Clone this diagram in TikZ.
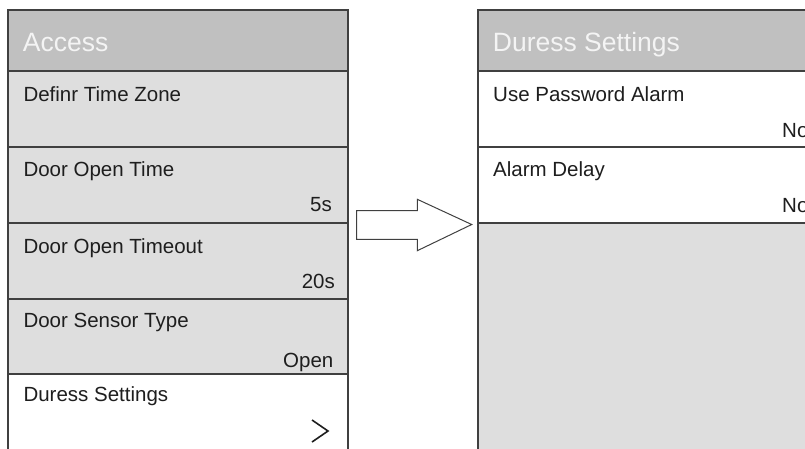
\documentclass[tikz,border=0pt]{standalone}
\usepackage{fontspec}
\setmainfont{Liberation Sans}
\usetikzlibrary{calc}
\definecolor{line}{HTML}{404040}
\definecolor{headgray}{HTML}{C0C0C0}
\definecolor{rowgray}{HTML}{DEDEDE}
\definecolor{ink}{HTML}{1E1E1E}
\definecolor{headtext}{HTML}{F4F4F4}
\tikzset{
  head/.style={fill=headgray, draw=line, line width=1.2pt},
  rowg/.style={fill=rowgray, draw=line, line width=1.2pt},
  roww/.style={fill=white, draw=line, line width=1.2pt},
  ttl/.style={text=headtext, font=\fontsize{26.5}{30}\selectfont, anchor=base west, inner sep=0pt},
  lab/.style={text=ink, font=\fontsize{20.5}{24}\selectfont, anchor=base west, inner sep=0pt},
  val/.style={text=ink, font=\fontsize{20.5}{24}\selectfont, anchor=base east, inner sep=0pt},
  valr/.style={text=ink, font=\fontsize{20.5}{24}\selectfont, anchor=base west, inner sep=0pt},
  blk/.style={draw=line, fill=white, line width=1.0pt, line join=miter},
  chev/.style={draw=ink, line width=1.6pt, line join=miter},
}

\begin{document}
\begin{tikzpicture}[x=1pt,y=-1pt]
  \useasboundingbox (0,0) rectangle (805,448);
  \clip (0,0) rectangle (805,448);
  \def\xa{8}
  \def\xb{348}
  \def\xc{478}
  \def\xd{820}
  % left screen
  \draw[head] (\xa,10) rectangle (\xb,71);
  \draw[rowg] (\xa,71) rectangle (\xb,147);
  \draw[rowg] (\xa,147) rectangle (\xb,223);
  \draw[rowg] (\xa,223) rectangle (\xb,299);
  \draw[rowg] (\xa,299) rectangle (\xb,374);
  \draw[roww] (\xa,374) rectangle (\xb,460);
  \node[ttl] (access) at (22.7,51.7) {Access};
  \node[lab] (tzone) at (23.3,101) {Definr Time Zone};
  \node[lab] (otime) at (23.3,176) {Door Open Time};
  \node[val] (otimev) at (332,211.7) {5s};
  \node[lab] (oout) at (23.3,253) {Door Open Timeout};
  \node[val] (ooutv) at (335,288.3) {20s};
  \node[lab] (stype) at (23.3,327) {Door Sensor Type};
  \node[val] (stypev) at (333.5,367) {Open};
  \node[lab] (duress) at (23.3,401) {Duress Settings};
  \draw[chev] (312,420) -- (328,431) -- (312,442);
  % block arrow
  \draw[blk] (356.7,210.7) -- (417.3,210.7) -- (417.3,199.3) -- (471.7,224.5)
    -- (417.3,250.7) -- (417.3,239.3) -- (356.7,239.3) -- cycle;
  % right screen
  \draw[head] (\xc,10) rectangle (\xd,71);
  \draw[roww] (\xc,71) rectangle (\xd,147);
  \draw[roww] (\xc,147) rectangle (\xd,223);
  \draw[rowg] (\xc,223) rectangle (\xd,460);
  \node[ttl] (dset) at (492.7,51.7) {Duress Settings};
  \node[lab] (pwalarm) at (493,101) {Use Password Alarm};
  \node[valr] (pwalarmv) at (782,137) {No};
  \node[lab] (adelay) at (493,176) {Alarm Delay};
  \node[valr] (adelayv) at (782,212) {No};
\end{tikzpicture}
\end{document}
